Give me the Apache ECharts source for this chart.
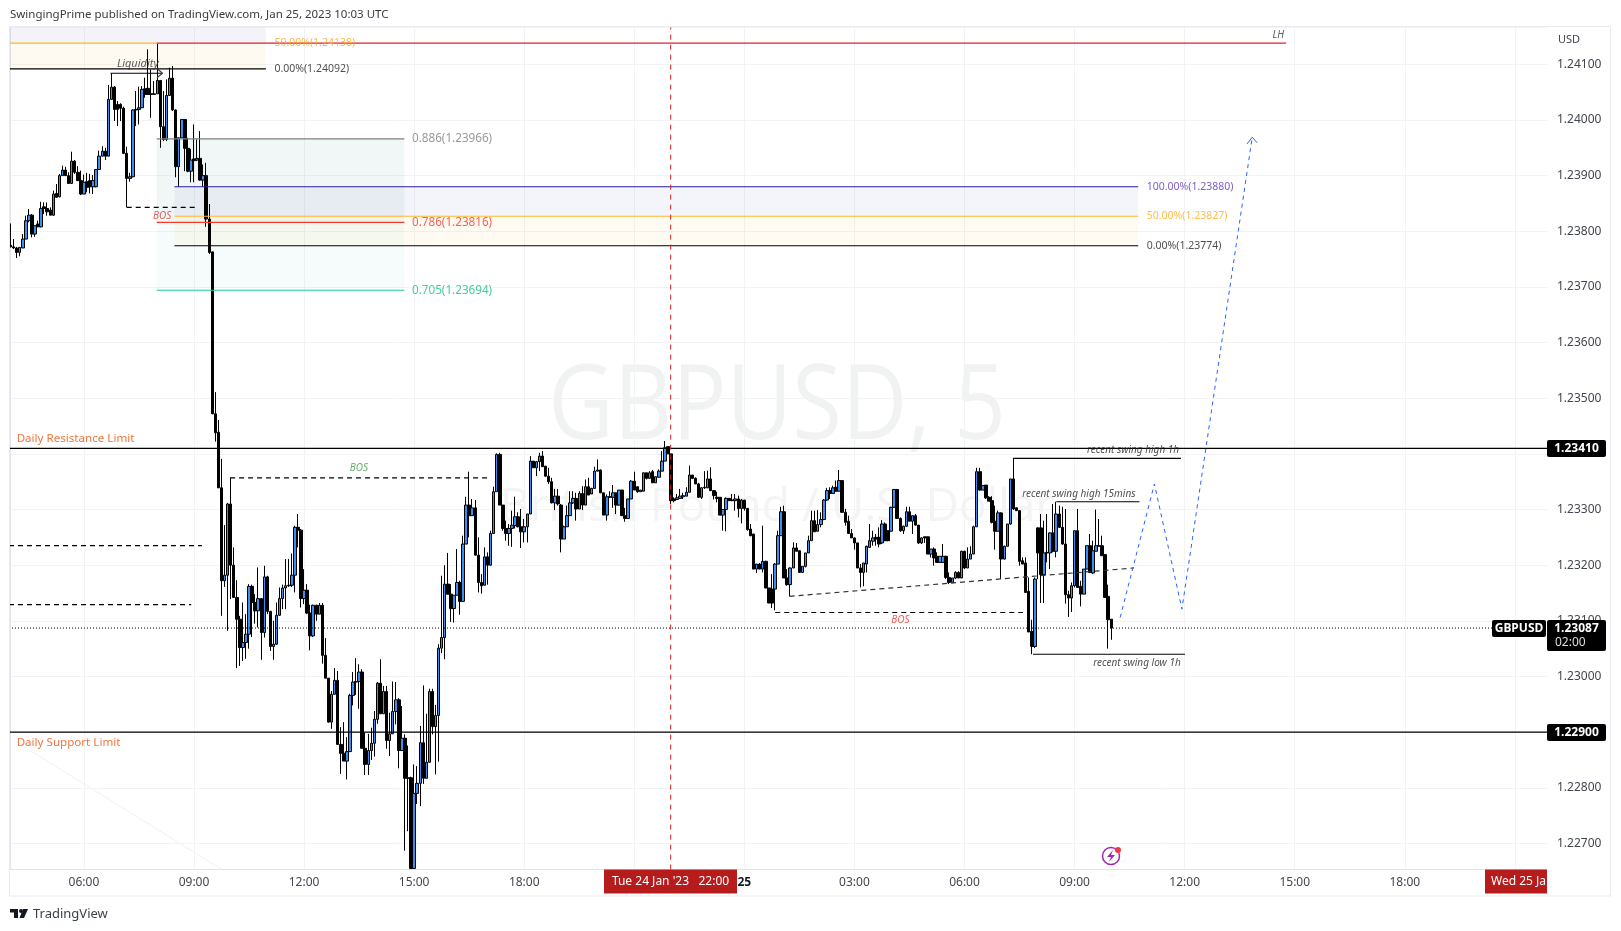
<!DOCTYPE html>
<html><head><meta charset="utf-8">
<style>html,body{margin:0;padding:0;background:#fff}#c{width:1621px;height:931px}</style>
<script src="https://cdn.jsdelivr.net/npm/echarts@6/dist/echarts.min.js"></script>
</head><body><div id="c"></div>
<script>
// GBPUSD 5-minute candles, prices in 1e-5 units, first bar = Jan 24 04:00
const opens=[
123775,123772,123770,123762,123770,123786,123819,123829,123795,123813,123808,123844,
123841,123838,123829,123868,123862,123900,123910,123900,123886,123926,123906,123891,
123867,123889,123891,123880,123880,123911,123935,123944,123935,124037,124059,124028,
124028,124021,123940,123895,123898,124018,124019,124022,124056,124057,124047,124046,
124047,124071,123988,123965,124044,124075,124018,123916,123968,124001,123949,123908,
123930,123928,123931,123892,123900,123822,123763,123472,123439,123339,123172,123182,
123310,123200,123142,123103,123052,123061,123076,123162,123133,123118,123140,123079,
123179,123117,123054,123058,123110,123140,123159,123163,123164,123182,123268,123263,
123140,123155,123114,123073,123128,123112,123128,123038,122997,122918,122968,122993,
122878,122862,122848,122865,122966,122990,122991,123008,122871,122842,122867,122880,
122923,122988,122933,122973,122885,122897,122937,122958,122867,122889,122818,122818,
122655,122790,122808,122881,122817,122846,122973,122910,122930,123051,123070,123166,
123148,123122,123146,123169,123135,123238,123308,123289,123303,123218,123169,123164,
123215,123200,123257,123332,123399,123308,123266,123257,123266,123271,123287,123269,
123260,123269,123292,123387,123375,123386,123396,123378,123360,123350,123312,123324,
123308,123247,123269,123289,123312,123320,123301,123329,123308,123341,123328,123338,
123369,123371,123330,123290,123323,123322,123330,123308,123335,123289,123284,123319,
123351,123341,123332,123333,123366,123356,123368,123348,123358,123369,123387,123413,
123400,123319,123318,123320,123323,123324,123331,123362,123356,123346,123322,123340,
123339,123355,123334,123322,123322,123290,123300,123320,123317,123316,123319,123302,
123317,123302,123265,123256,123193,123202,123193,123207,123159,123157,123157,123202,
123253,123296,123177,123165,123195,123231,123226,123187,123198,123222,123244,123280,
123261,123273,123282,123317,123334,123329,123340,123333,123352,123295,123279,123257,
123249,123240,123195,123187,123202,123232,123243,123250,123250,123240,123274,123262,
123261,123304,123336,123284,123262,123270,123296,123279,123289,123272,123240,123251,
123251,123220,123229,123216,123205,123205,123216,123178,123169,123177,123187,123177,
123225,123195,123211,123220,123269,123368,123335,123344,123322,123316,123279,123261,
123294,123211,123234,123274,123355,123303,123298,123208,123204,123153,123081,123054,
123267,123267,123183,123222,123222,123258,123225,123292,123268,123238,123147,123141,
123163,123262,123162,123148,123193,123235,123186,123225,123234,123235,123219,123144,123103];
const closes=[
123772,123770,123762,123771,123786,123819,123829,123795,123810,123808,123841,123841,
123835,123829,123867,123861,123900,123910,123900,123886,123926,123906,123891,123867,
123888,123879,123880,123891,123911,123935,123944,123935,124037,124059,124019,124019,
124021,123940,123895,123898,124018,124019,124022,124055,124046,124046,124046,124047,
124071,123988,123965,124044,124075,124018,123916,123968,124001,123949,123908,123928,
123927,123931,123892,123900,123822,123762,123472,123438,123339,123172,123182,123310,
123200,123142,123103,123052,123061,123076,123162,123133,123118,123140,123079,123179,
123117,123054,123058,123110,123140,123159,123163,123164,123182,123268,123263,123140,
123155,123114,123073,123128,123112,123128,123038,122997,122918,122968,122993,122878,
122862,122848,122865,122966,122990,122991,123008,122871,122842,122867,122880,122923,
122988,122933,122973,122885,122897,122937,122958,122867,122889,122817,122817,122655,
122790,122808,122881,122817,122846,122973,122910,122930,123051,123070,123166,123148,
123122,123146,123169,123135,123238,123308,123289,123303,123218,123169,123163,123215,
123200,123257,123332,123399,123308,123266,123257,123266,123272,123287,123269,123260,
123269,123292,123387,123375,123386,123396,123377,123360,123350,123312,123324,123310,
123247,123269,123289,123312,123320,123301,123329,123308,123341,123326,123338,123369,
123371,123330,123290,123323,123322,123330,123308,123335,123289,123284,123319,123351,
123335,123332,123335,123366,123356,123366,123348,123359,123369,123387,123411,123400,
123316,123316,123321,123324,123325,123331,123362,123356,123346,123322,123339,123339,
123355,123334,123325,123320,123290,123300,123320,123316,123316,123319,123302,123317,
123302,123264,123253,123193,123202,123193,123207,123159,123132,123132,123202,123253,
123296,123177,123165,123195,123231,123225,123187,123198,123222,123244,123280,123260,
123273,123282,123317,123334,123329,123339,123333,123352,123295,123277,123257,123249,
123240,123195,123187,123204,123234,123244,123249,123247,123238,123274,123244,123244,
123304,123336,123284,123262,123270,123296,123279,123289,123272,123240,123249,123249,
123220,123229,123213,123205,123216,123216,123178,123169,123177,123187,123177,123225,
123195,123211,123220,123269,123368,123335,123343,123321,123315,123277,123261,123294,
123211,123234,123274,123355,123301,123298,123207,123202,123151,123080,123054,123175,
123222,123183,123222,123223,123258,123225,123292,123268,123238,123147,123141,123163,
123262,123160,123148,123193,123235,123187,123226,123235,123235,123217,123142,123102,123087];
const lows=[
123771,123768,123752,123755,123770,123786,123816,123789,123790,123808,123807,123831,
123828,123829,123828,123861,123861,123900,123900,123885,123886,123903,123891,123865,
123867,123870,123868,123867,123879,123911,123935,123928,123935,124037,123998,123989,
123998,123939,123843,123889,123897,123989,123992,124022,124040,124046,124004,124046,
124047,123950,123962,123962,124044,124016,123897,123880,123968,123908,123906,123888,
123888,123926,123891,123880,123808,123759,123472,123422,123339,123109,123161,123082,
123139,123142,123015,123019,123028,123032,123050,123071,123095,123088,123030,123070,
123112,123046,123030,123057,123109,123121,123121,123161,123161,123151,123232,123124,
123130,123112,123047,123071,123100,123112,123023,122997,122917,122906,122968,122877,
122825,122848,122815,122865,122948,122967,122942,122871,122823,122823,122850,122856,
122915,122933,122933,122870,122857,122897,122914,122835,122867,122687,122722,122655,
122655,122771,122767,122807,122817,122845,122896,122824,122847,123042,123031,123147,
123098,123097,123146,123111,123134,123238,123250,123289,123218,123151,123149,123164,
123165,123200,123257,123332,123308,123262,123244,123235,123233,123266,123268,123231,
123241,123241,123292,123375,123360,123369,123377,123359,123346,123311,123299,123307,
123223,123247,123269,123289,123310,123280,123301,123299,123308,123326,123328,123338,
123369,123330,123290,123280,123322,123303,123292,123307,123289,123278,123284,123319,
123335,123330,123332,123333,123354,123356,123348,123348,123358,123369,123387,123400,
123310,123313,123318,123319,123319,123324,123331,123356,123346,123321,123319,123337,
123339,123333,123318,123313,123290,123262,123261,123316,123315,123298,123286,123275,
123298,123262,123252,123193,123186,123193,123187,123159,123132,123123,123119,123202,
123253,123177,123163,123144,123195,123225,123187,123187,123196,123222,123244,123260,
123261,123268,123281,123316,123319,123328,123332,123333,123295,123271,123256,123249,
123228,123195,123160,123162,123187,123232,123235,123235,123232,123238,123243,123243,
123261,123303,123283,123260,123256,123269,123279,123256,123271,123238,123238,123240,
123220,123214,123199,123205,123205,123205,123175,123166,123168,123175,123177,123177,
123193,123195,123211,123220,123269,123334,123335,123319,123315,123275,123228,123261,
123175,123210,123234,123273,123299,123298,123199,123202,123150,123080,123040,123051,
123175,123132,123132,123205,123193,123223,123214,123267,123237,123131,123107,123116,
123160,123160,123126,123148,123193,123186,123184,123225,123234,123217,123142,123050,123066];
const highs=[
123814,123786,123772,123771,123795,123828,123840,123831,123810,123819,123853,123852,
123852,123843,123873,123885,123903,123918,123916,123906,123943,123928,123917,123909,
123902,123905,123903,123901,123911,123945,123953,123950,124063,124084,124061,124034,
124030,124024,123952,123905,124019,124052,124060,124061,124076,124127,124091,124070,
124137,124072,124052,124073,124094,124097,124019,123968,124001,124001,123968,123948,
123992,123965,123980,123920,123923,123849,123763,123511,123461,123391,123272,123312,
123357,123232,123173,123109,123133,123112,123166,123165,123148,123196,123141,123199,
123181,123118,123100,123133,123160,123165,123211,123211,123221,123271,123292,123265,
123193,123166,123129,123129,123129,123132,123132,123069,122997,122974,123015,123010,
122909,122918,122891,122969,123008,123033,123022,123013,122899,122897,122908,122938,
122990,123031,122983,122983,122935,122991,122990,122961,122947,122896,122876,122820,
122842,122839,122911,122984,122933,122978,122978,122949,123058,123181,123200,123222,
123166,123146,123229,123172,123253,123323,123368,123319,123317,123250,123184,123232,
123223,123262,123341,123401,123402,123308,123280,123274,123298,123323,123295,123301,
123283,123292,123396,123387,123387,123402,123405,123378,123375,123357,123337,123337,
123310,123271,123307,123333,123333,123330,123333,123342,123354,123357,123339,123377,
123390,123372,123330,123327,123333,123344,123330,123335,123335,123303,123319,123353,
123368,123341,123335,123366,123366,123369,123371,123359,123372,123405,123423,123413,
123400,123322,123328,123337,123330,123340,123379,123362,123358,123348,123340,123369,
123370,123376,123334,123332,123322,123301,123322,123320,123328,123328,123325,123319,
123317,123303,123274,123256,123202,123204,123271,123208,123159,123184,123204,123262,
123305,123307,123193,123196,123241,123240,123226,123198,123222,123253,123298,123298,
123299,123295,123319,123339,123340,123343,123352,123371,123352,123301,123289,123265,
123250,123240,123202,123204,123235,123274,123262,123256,123268,123281,123277,123263,
123305,123336,123337,123286,123271,123305,123305,123289,123292,123272,123250,123251,
123251,123229,123232,123223,123216,123238,123217,123187,123177,123189,123189,123226,
123226,123232,123234,123271,123375,123375,123343,123344,123324,123324,123307,123298,
123295,123235,123274,123355,123393,123304,123298,123214,123214,123178,123102,123178,
123268,123292,123280,123292,123259,123310,123314,123307,123305,123301,123154,123169,
123262,123301,123172,123193,123235,123256,123244,123300,123283,123253,123219,123165,123103];

// key price levels (1e-5 units)
const dailyResistance=123410, dailySupport=122900, lastPrice=123087;
const fibHigh=[124138,124092];            // 50%, 0%
const fibRetrace=[123966,123816,123694];  // .886 .786 .705
const fibLow=[123880,123827,123774];      // 100%, 50%, 0%
const slotCount=503;                      // visible 5-minute slots on the axis
const pointsPerUnit=1e5;

const timeCats=[];
for(let i=0;i<slotCount;i++){const m=(240+i*5)%1440;
  timeCats.push(String(Math.floor(m/60)).padStart(2,'0')+':'+String(m%60).padStart(2,'0'));}
const candleData=opens.map((o,i)=>[o,closes[i],lows[i],highs[i]]);

const black='#000', FONT='"Noto Sans","Open Sans",sans-serif';
const overlay=[];
function seg(pts,color,type,width,z){overlay.push({type:'line',xAxisIndex:1,yAxisIndex:0,data:pts,symbol:'none',silent:true,
  animation:false,z:z||5,lineStyle:{color,type:type||'solid',width:width||1.2,dashOffset:0},itemStyle:{color}});}
function zone(x1,p1,x2,p2,color){overlay.push({type:'line',xAxisIndex:1,yAxisIndex:0,data:[[x1,p1]],symbol:'none',silent:true,animation:false,z:1,
  lineStyle:{width:0},markArea:{silent:true,animation:false,itemStyle:{color,borderWidth:0},data:[[{coord:[x1,p1]},{coord:[x2,p2]}]]}});}
const texts=[];
function txt(x,p,t,color,size,align,italic){texts.push({value:[x,p],label:{show:true,position:'inside',formatter:t,color,fontSize:size||11.7,
  align:align||'left',verticalAlign:'middle',fontStyle:italic?'italic':'normal',fontFamily:FONT}});}

// zones
zone(-0.5,124166,83.5,fibHigh[0],'rgba(103,90,183,0.07)');
zone(-0.5,fibHigh[0],83.5,fibHigh[1],'rgba(255,190,60,0.07)');
zone(47.8,fibRetrace[0],128.8,fibRetrace[1],'rgba(20,120,100,0.06)');
zone(47.8,fibRetrace[1],128.8,fibRetrace[2],'rgba(0,190,150,0.04)');
zone(53.6,fibLow[0],368.8,fibLow[1],'rgba(70,60,180,0.06)');
zone(53.6,fibLow[1],368.8,fibLow[2],'rgba(255,190,40,0.06)');
// fib lines
seg([[-0.5,fibHigh[0]],[47.8,fibHigh[0]]],'#ffb81c');
seg([[47.8,fibHigh[0]],[417.2,fibHigh[0]]],'#e0202c');
seg([[-0.5,fibHigh[1]],[83.5,fibHigh[1]]],black);
seg([[47.8,fibRetrace[0]],[128.8,fibRetrace[0]]],'#808080');
seg([[47.8,fibRetrace[1]],[128.8,fibRetrace[1]]],'#f9392b');
seg([[47.8,fibRetrace[2]],[128.8,fibRetrace[2]]],'#20c997');
seg([[53.6,fibLow[0]],[368.8,fibLow[0]]],'#2a1a9a');
seg([[53.6,fibLow[1]],[368.8,fibLow[1]]],'#ffb733');
seg([[53.6,fibLow[2]],[368.8,fibLow[2]]],black);
// horizontal levels
seg([[-0.5,dailyResistance],[502.5,dailyResistance]],black,'solid',1.3);
seg([[-0.5,dailySupport],[502.5,dailySupport]],black,'solid',1.3);
seg([[-0.5,lastPrice],[485,lastPrice]],black,[1,2],1);
// left dashes and BOS
seg([[-0.5,123235],[62.6,123235]],black,[5,4]);
seg([[-0.5,123129],[59.1,123129]],black,[5,4]);
seg([[38,123843],[61,123843]],black,[5,4]);
seg([[71.8,123357],[156,123357]],black,[5,4]);
seg([[250.1,123115],[331.1,123115]],black,[5,4]);
seg([[254.8,123144],[367.4,123195]],'#333',[5,4]);
// liquidity bracket
seg([[32.7,124084],[49.7,124084]],black);
seg([[47.9,124076],[49.7,124084],[48,124092]],'#444');
// swing lines
seg([[328.2,123392],[382.8,123392]],black);
seg([[342,123314],[369.2,123314]],black);
seg([[334.4,123040],[384.1,123040]],black);
// projection
seg([[362.9,123106],[374.1,123346],[383.1,123121],[406.1,123969]],'#2962ff',[4,4],1);
seg([[404.4,123957],[406.1,123969],[407.7,123959]],'#2962ff',null,1);
// faint diagonal
seg([[6.7,122866],[69.2,122653]],'#f1f1f1','solid',1,1);
// red time marker
seg([[215.9,122653],[215.9,124166]],'#d01f1f',[5,5],1,6);

// labels
txt(86.3,fibHigh[0],'50.00%(1.24138)','#f7a823',10.5);
txt(86.3,fibHigh[1],'0.00%(1.24092)','#222',10.5);
txt(131.3,fibRetrace[0],'0.886(1.23966)','#808080');
txt(131.3,fibRetrace[1],'0.786(1.23816)','#f9392b');
txt(131.3,fibRetrace[2],'0.705(1.23694)','#14c08e');
txt(371.6,fibLow[0],'100.00%(1.23880)','#5a35b5',10.5);
txt(371.6,fibLow[1],'50.00%(1.23827)','#ffae1a',10.5);
txt(371.6,fibLow[2],'0.00%(1.23774)','#222',10.5);
txt(2,123427,'Daily Resistance Limit','#e8540c',11.6);
txt(2,122881,'Daily Support Limit','#e8540c',11.6);
txt(49.6,123828,'BOS','#d13b3b',10,'center',true);
txt(41.6,124100,'Liquidity','#333',11,'center',true);
txt(113.9,123374,'BOS','#3f9c46',10,'center',true);
txt(291,123101,'BOS','#e53935',10,'center',true);
txt(414.6,124153,'LH','#333',10,'center',true);
txt(367.1,123407,'recent swing high 1h','#222',10,'center',true);
txt(349.4,123328,'recent swing high 15mins','#222',10,'center',true);
txt(368.4,123024,'recent swing low 1h','#222',10,'center',true);

const isTick=(i)=>i%36===24;
const chart=echarts.init(document.getElementById('c'),null,{renderer:'canvas'});
function tag(x,y,w,h,t,sub){
  const out=[{type:'rect',z:50,shape:{x,y,width:w,height:h,r:2},style:{fill:'#000'}},
    {type:'text',z:51,x:x+w/2,y:y+8.5,style:{text:t,fill:'#fff',font:'bold 12px '+FONT,align:'center',verticalAlign:'middle'}}];
  if(sub)out.push({type:'text',z:51,x:x+8,y:y+23,style:{text:sub,fill:'#ddd',font:'12px '+FONT,align:'left',verticalAlign:'middle'}});
  return out;
}
chart.setOption({
  animation:false,backgroundColor:'#fff',
  grid:{left:9,top:27.6,width:1538,height:842,containLabel:false,show:false},
  xAxis:[{type:'category',data:timeCats,boundaryGap:true,
      axisLine:{show:true,lineStyle:{color:'#e0e3eb'}},axisTick:{show:false},
      axisLabel:{interval:(i)=>isTick(i),margin:7,color:'#434651',fontSize:12,fontFamily:FONT,
        formatter:(v,i)=>i===240?'{b|25}':v,rich:{b:{fontWeight:'bold',color:'#131722',fontSize:12}}},
      splitLine:{show:true,alignWithLabel:true,interval:(i)=>isTick(i),lineStyle:{color:'#f1f3f6',width:1}}},
    {type:'value',show:false,min:-0.5,max:502.5,splitLine:{show:false}}],
  yAxis:[{type:'value',position:'right',min:122653,max:124166,splitNumber:15,minInterval:100,maxInterval:100,
      axisLine:{show:true,lineStyle:{color:'#e0e3eb'}},axisTick:{show:false},
      axisLabel:{margin:10,color:'#434651',fontSize:12,fontFamily:FONT,showMinLabel:false,showMaxLabel:false,
        formatter:(v)=>(v/pointsPerUnit).toFixed(5)},
      splitLine:{show:true,lineStyle:{color:'#f1f3f6',width:1}}}],
  series:[
    {type:'candlestick',xAxisIndex:0,yAxisIndex:0,data:candleData,barWidth:3,z:3,silent:true,large:false,
      itemStyle:{color:'#3b8ff0',color0:'#000',borderColor:'#000',borderColor0:'#000',borderWidth:1}},
    ...overlay,
    {type:'scatter',xAxisIndex:1,yAxisIndex:0,symbolSize:0,silent:true,z:8,data:texts,animation:false}
  ],
  graphic:[
    {type:'text',z:0,x:777,y:409,scaleX:0.86,silent:true,style:{text:'GBPUSD, 5',fill:'#f1f3f3',font:'105px "Open Sans",sans-serif',align:'center',verticalAlign:'middle'}},
    {type:'text',z:0,x:777,y:508,silent:true,style:{text:'British Pound / U.S. Dollar',fill:'#f3f5f5',font:'46px "Open Sans",sans-serif',align:'center',verticalAlign:'middle'}},
    {type:'text',x:10,y:15,style:{text:'SwingingPrime published on TradingView.com, Jan 25, 2023 10:03 UTC',fill:'#3a3a3a',font:'11.5px '+FONT,verticalAlign:'middle'}},
    {type:'rect',z:60,silent:true,shape:{x:9.5,y:26.5,width:1601,height:869.5},style:{fill:'none',stroke:'#e9ebf2',lineWidth:1}},
    {type:'text',z:40,x:1558,y:40,style:{text:'USD',fill:'#434651',font:'11px '+FONT,verticalAlign:'middle'}},
    ...tag(1547,440,59,17,'1.23410'),
    ...tag(1547,724,59,17,'1.22900'),
    ...tag(1547,620,59,31,'1.23087','02:00'),
    ...tag(1492,620,54,17,'GBPUSD'),
    // red axis tags
    {type:'rect',z:45,shape:{x:604,y:869.5,width:133,height:24},style:{fill:'#b71c1c'}},
    {type:'text',z:46,x:670.5,y:882,style:{text:"Tue 24 Jan '23   22:00",fill:'#fff',font:'12px '+FONT,align:'center',verticalAlign:'middle'}},
    {type:'rect',z:45,shape:{x:1485,y:869.5,width:62,height:24},style:{fill:'#b71c1c'}},
    {type:'text',z:46,x:1491,y:882,style:{text:'Wed 25 Ja',fill:'#fff',font:'12px '+FONT,verticalAlign:'middle'}},
    // alert icon
    {type:'circle',z:40,shape:{cx:1111,cy:856,r:8.5},style:{fill:'#fff',stroke:'#9c27b0',lineWidth:1.5}},
    {type:'polygon',z:41,shape:{points:[[1113,850],[1107,857],[1111,857],[1109,862],[1115,855],[1111,855]]},style:{fill:'#9c27b0'}},
    {type:'circle',z:42,shape:{cx:1118,cy:850,r:3},style:{fill:'#f23645'}},
    // footer logo
    {type:'rect',shape:{x:10,y:909,width:8,height:3.5},style:{fill:'#131722'}},
    {type:'rect',shape:{x:14,y:909,width:4,height:9},style:{fill:'#131722'}},
    {type:'circle',shape:{cx:21,cy:911,r:2},style:{fill:'#131722'}},
    {type:'polygon',shape:{points:[[23,909],[28,909],[24,918],[19.5,918]]},style:{fill:'#131722'}},
    {type:'text',x:33,y:914,style:{text:'TradingView',fill:'#3a3f4a',font:'13px '+FONT,verticalAlign:'middle'}}
  ]
});
</script></body></html>
